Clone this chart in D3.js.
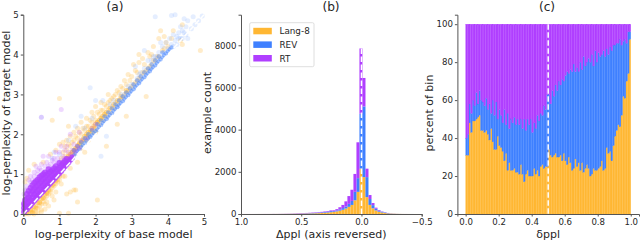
<!DOCTYPE html>
<html>
<head>
<meta charset="utf-8">
<script src="https://cdn.jsdelivr.net/npm/d3@7"></script>
<style>
body { margin: 0; background: #fff; }
text { font-family: "DejaVu Sans", sans-serif; fill: #262626; }
.tick text { font-size: 8.6px; }
.axis path, .tick line { stroke: #555; }
.label { font-size: 11px; text-anchor: middle; }
.title { font-size: 12.2px; text-anchor: middle; }
</style>
</head>
<body>
<div id="drawArea"></div>
<script>
var seriesNames = ['Lang-8', 'REV', 'RT'];
var seriesColor = ['#ffb733', '#3f80ff', '#b03fff'];

// (a) points, [base, target]
var lang8Points = [[0.05,0],[0.1,0.02],[0.15,0],[0.2,0.05],[0.25,0.02],[0.3,0.1],[0.35,0.05],[0.4,0.15],[0.45,0.2],[0.5,0.25],[0.5,0.1],[0.55,0.3],[0.6,0.4],[0.6,0.25],[0.65,0.45],[0.7,0.5],[0.75,0.55],[0.8,0.65],[0.85,0.7],[0.9,0.75],[0.95,0.8],[1,0.85],[0.7,0.2],[0.85,0.35],[1,0.02],[1.25,0.02],[1.3,0.55],[1.2,0.5],[1.4,0.6],[1.5,0.3],[1.45,0.6],[2.05,0.35],[1.15,0.95],[1.3,1.15],[1.5,1.3],[1.7,1.55],[2.3,1.7],[2.6,2.25],[2.85,2.45],[3.4,2.95],[0.05,0.8],[0.15,1.1],[0.1,0.9],[0.3,1.25],[0.55,1.3],[0.75,1.5],[0.9,1.6],[1.0,2.9],[1.25,2.2],[0.8,2.35],[1.0,1.75],[1.1,1.8],[1.2,1.6],[1.2,1.85],[1.3,1.7],[1.3,1.95],[1.4,1.6],[1.4,1.85],[1.4,2.05],[1.5,1.7],[1.5,1.9],[1.5,2.15],[1.6,1.75],[1.6,2.0],[1.6,2.3],[1.7,1.85],[1.7,2.1],[1.75,2.4],[1.8,1.95],[1.8,2.2],[1.9,2.05],[1.9,2.3],[1.9,2.55],[2.0,2.15],[2.0,2.35],[2.0,2.7],[2.1,2.25],[2.1,2.5],[2.15,2.8],[2.2,2.35],[2.2,2.6],[2.3,2.45],[2.3,2.7],[2.35,3.0],[2.4,2.55],[2.4,2.85],[2.5,2.65],[2.5,2.95],[2.6,2.75],[2.6,3.1],[2.7,2.9],[2.7,3.2],[2.8,3.0],[2.8,3.35],[2.9,3.1],[2.9,3.5],[3.0,3.2],[3.0,3.45],[3.05,3.75],[3.1,3.3],[3.1,3.6],[3.2,3.4],[3.2,3.8],[3.2,4.0],[3.3,3.55],[3.3,3.9],[3.4,3.6],[3.45,4.05],[3.5,3.7],[3.5,3.95],[3.6,3.85],[3.6,4.2],[3.7,3.95],[3.75,4.4],[3.85,4.1],[3.9,4.45],[4.0,4.2],[4.15,4.6],[4.4,4.75],[4.4,4.25],[4.35,4.35],[4.9,4.1],[3.9,4.15],[3.95,4.3],[3.8,4.6],[4.1,4.4],
[1.05,1.4],[1.1,1.55],[1.15,1.45],[1.15,1.7],[1.25,1.5],[1.25,1.75],[1.35,1.55],[1.35,1.8],[1.45,1.65],[1.45,1.95],[1.55,1.75],[1.55,2.05],[1.65,1.85],[1.65,2.15],[1.75,1.95],[1.75,2.2],[1.85,2.05],[1.85,2.35],[1.95,2.15],[1.95,2.45],[2.05,2.3],[2.05,2.55],[2.15,2.4],[2.15,2.6],[2.25,2.5],[2.25,2.75],[2.35,2.6],[2.35,2.8],[2.45,2.7],[2.45,2.9],[2.55,2.8],[2.55,3.0],[2.65,2.85],[2.65,3.05],[2.75,2.95],[2.75,3.15],[2.85,3.05],[2.85,3.25],[2.95,3.15],[2.95,3.35],[3.05,3.25],[3.15,3.35],[3.15,3.55],[3.25,3.45],[3.35,3.55],[3.35,3.75],[3.45,3.65],[3.55,3.75],[3.55,4.0],[3.65,3.85],[3.75,3.95],[1.3,1.4],[1.4,1.5],[1.6,1.65],[1.8,1.85],[2.0,2.05],[0.25,0.1],[0.35,0.2],[0.45,0.3],[0.55,0.4],[0.65,0.55],[0.75,0.6],[0.85,0.75],[0.95,0.85],[0.3,0],[0.4,0.03],[0.5,0.05],[0.6,0.12],[0.65,0.3],[0.8,0.45],[0.9,0.55],[1.05,0.75],[1.1,0.95]];
var lang8Core = [[0.1,0.05],[0.2,0.1],[0.3,0.18],[0.4,0.28],[0.5,0.38],[0.6,0.5],[0.7,0.6],[0.8,0.72],[0.9,0.84],[1,0.95],[0.25,0.05],[0.35,0.15],[0.45,0.28],[0.55,0.4],[0.65,0.52],[1.1,1.25],[1.2,1.4],[1.3,1.5],[1.4,1.6],[1.5,1.72],[1.6,1.82],[1.7,1.95],[1.8,2.05],[1.9,2.15],[2,2.25],[2.1,2.35],[2.2,2.45],[2.3,2.55],[2.4,2.65],[2.5,2.75],[2.6,2.85],[2.7,2.95],[2.85,3.1],[1.15,1.3],[1.25,1.45],[1.35,1.55],[1.45,1.65],[1.55,1.78],[1.65,1.88],[1.75,2.0],[1.85,2.1],[1.95,2.2],[2.05,2.3],[2.15,2.4],[2.25,2.5]];
var revPoints = [[0.5,2.43],[0.85,1.55],[1.45,2.2],[1.6,2.45],[1.85,3.17],[2.0,2.85],[2.2,2.85],[2.15,1.45],[2.3,1.95],[2.6,2.7],[2.8,3.0],[3.0,3.25],[3.2,3.5],[3.45,3.85],[3.5,3.65],[3.6,3.95],[3.7,3.9],[3.75,4.05],[3.8,4.3],[3.9,4.05],[3.95,4.3],[4.0,4.15],[4.05,4.4],[4.1,4.25],[4.15,4.5],[4.2,4.35],[4.25,4.45],[4.3,4.55],[4.35,4.4],[4.35,4.7],[4.4,4.6],[4.45,4.9],[4.5,4.5],[4.5,4.7],[4.55,4.4],[4.55,4.85],[4.7,4.95],[4.75,4.75],[4.85,4.85],[4.95,4.97],[3.65,4.95],[4.1,4.98],[4.2,5],[3.35,4.1],[3.1,3.7],[2.5,2.85],[2.4,2.75],[1.9,2.4],[1.7,2.15],[1.25,1.85],[1.0,1.5],[0.8,1.4],[4.65,4.65],[4.4,4.4],[4.25,4.25],[4.15,4.2],[3.15,3.4],[3.25,3.55],[3.35,3.65],[3.55,3.85],[3.65,3.95],[3.85,4.2],[2.9,3.2],[2.7,3.0],[4.3,4.4],[4.45,4.55]];
var revCore = [[1.2,1.25],[1.25,1.3],[1.3,1.36],[1.35,1.4],[1.4,1.47],[1.45,1.52],[1.5,1.58],[1.55,1.62],[1.6,1.68],[1.65,1.72],[1.7,1.78],[1.75,1.84],[1.8,1.9],[1.85,1.93],[1.9,1.98],[1.95,2.03],[2,2.08],[2.05,2.12],[2.1,2.18],[2.15,2.23],[2.2,2.28],[2.25,2.33],[2.3,2.38],[2.35,2.43],[2.4,2.48],[2.45,2.53],[2.5,2.58],[2.55,2.63],[2.6,2.68],[2.65,2.73],[2.7,2.78],[2.75,2.83],[2.8,2.88],[2.85,2.93],[2.9,2.98],[2.95,3.03],[3,3.08],[3.05,3.13],[3.1,3.18],[3.15,3.23],[3.2,3.28],[3.25,3.33],[3.3,3.38],[3.35,3.43],[3.4,3.48],[3.45,3.53],[3.5,3.58],[3.55,3.63],[3.6,3.68],[3.65,3.73],[3.7,3.78],[3.75,3.83],[3.8,3.88],[3.85,3.93],[3.9,3.98],[3.95,4.03],[4,4.08],[4.05,4.13],[4.1,4.18],[2.25,2.45],[2.35,2.55],[2.45,2.65],[2.55,2.75],[2.65,2.85],[2.75,2.95],[2.85,3.05],[2.95,3.15],[3.05,3.25],[3.15,3.35],[3.25,3.45],[3.35,3.55],[3.45,3.65],[3.55,3.75],[3.65,3.85],[3.75,3.95],[3.85,4.05],[1.4,1.6],[1.5,1.7],[1.6,1.8],[1.7,1.9],[1.8,2.0],[1.9,2.1],[2.05,2.25],[2.15,2.35]];
var rtPoints = [[0.02,0.3],[0.02,0.5],[0.05,0.6],[0.1,0.7],[0.15,0.85],[0.2,0.95],[0.3,1.05],[0.35,1.2],[0.45,1.15],[0.5,1.25],[0.55,1.45],[0.65,1.3],[0.7,1.45],[0.85,1.4],[0.9,1.55],[1.0,1.55],[1.05,1.7],[1.15,1.6],[1.2,1.7],[1.25,1.55],[1.35,1.6],[1.4,1.75],[1.5,1.7],[1.6,1.85],[1.75,1.9],[1.05,2.62],[0.5,2.43],[1.3,2.0],[1.55,2.05],[1.9,2.15],[2,2.25],[0.25,0.85],[0.4,1.0],[0.6,1.2],[0.8,1.35],[0.95,1.4],[1.1,1.45],[1.3,1.45],[1.45,1.6],[0.05,0.45],[0.1,0.6],[0.2,0.8],[0.3,0.95],[0.4,1.1],[0.5,1.1],[0.6,1.05],[0.7,1.2],[0.75,1.25],[0.85,1.3],[0.95,1.3],[1.05,1.35],[1.15,1.4],[1.25,1.4],[1.35,1.5],[1.45,1.55],[1.55,1.65]];
var rtCore = [[0.02,0.05],[0.02,0.15],[0.02,0.25],[0.05,0.1],[0.05,0.22],[0.05,0.35],[0.1,0.12],[0.1,0.25],[0.1,0.38],[0.1,0.5],[0.15,0.18],[0.15,0.3],[0.15,0.42],[0.15,0.58],[0.2,0.22],[0.2,0.35],[0.2,0.5],[0.2,0.65],[0.25,0.28],[0.25,0.42],[0.25,0.58],[0.25,0.72],[0.3,0.33],[0.3,0.48],[0.3,0.62],[0.3,0.78],[0.35,0.38],[0.35,0.52],[0.35,0.68],[0.35,0.82],[0.4,0.44],[0.4,0.58],[0.4,0.72],[0.4,0.86],[0.45,0.48],[0.45,0.62],[0.45,0.78],[0.45,0.92],[0.5,0.53],[0.5,0.68],[0.5,0.82],[0.5,0.96],[0.55,0.58],[0.55,0.72],[0.55,0.88],[0.55,1.0],[0.6,0.63],[0.6,0.78],[0.6,0.92],[0.6,1.04],[0.65,0.68],[0.65,0.82],[0.65,0.98],[0.7,0.73],[0.7,0.88],[0.7,1.02],[0.7,1.12],[0.75,0.78],[0.75,0.92],[0.75,1.06],[0.8,0.83],[0.8,0.96],[0.8,1.1],[0.85,0.88],[0.85,1.02],[0.85,1.15],[0.9,0.93],[0.9,1.06],[0.9,1.2],[0.95,0.98],[0.95,1.12],[1,1.03],[1,1.16],[1,1.28],[1.05,1.08],[1.05,1.22],[1.1,1.14],[1.1,1.28],[1.15,1.2],[1.2,1.25],[1.25,1.3],[1.15,1.33],[1.2,1.38],[1.3,1.36],[1.35,1.42]];

// (b) per-bin counts, 1.0 down to -0.5
var lang8Count = [1,1,1,1,1,2,2,2,2,3,3,4,4,5,6,7,9,11,13,15,18,22,26,30,35,40,50,60,70,85,100,125,160,200,260,340,430,650,1050,2150,1750,800,430,270,170,110,70,45,28,18,12,7,5,3,2,2,1,1,1,0];
var revCount = [0,0,0,0,1,1,1,1,1,1,2,2,2,3,3,4,5,6,7,9,12,14,16,20,22,25,28,32,40,50,35,45,60,80,100,140,190,400,650,2600,3350,950,280,150,80,50,35,25,15,8,5,3,2,1,1,1,1,0,0,0];
var rtCount = [1,1,1,1,1,1,1,2,2,2,3,2,4,4,6,7,8,11,15,16,12,14,16,18,20,22,25,28,30,35,40,60,100,150,240,370,530,850,1700,3100,1350,400,190,100,50,30,15,10,7,4,3,2,1,1,1,0,0,0,0,0];
var countTicks = [0, 2000, 4000, 6000, 8000];
var deltaTicks = [1.0, 0.5, 0.0, -0.5];

// (c) top of each layer per 1% bin, RT fills up to 100
var lang8Top = [31,31,48,43,49,49,50,51,52,44,44,43,44,42,39,45,38,34,34,41,36,35,33,28,32,23,27,23,23,24,22,22,21,26,21,17,21,23,20,20,20,24,21,23,20,25,26,24,25,25,34,31,30,31,32,30,30,31,28,32,28,26,30,27,23,24,29,25,27,23,27,22,24,26,24,20,21,24,23,23,24,25,28,23,24,35,32,33,28,36,41,44,47,46,52,62,61,70,74,92];
var revTop = [40,42,58,53,60,57,64,58,65,60,59,57,61,55,58,53,60,52,59,50,55,52,48,55,47,53,45,50,48,51,47,50,47,50,45,50,44,50,47,50,43,48,45,52,49,53,52,57,55,63,63,58,65,62,68,65,70,68,71,70,73,75,74,76,75,79,75,77,75,80,76,83,78,80,82,80,84,78,86,80,85,83,84,86,83,87,84,88,86,89,89,90,90,92,89,91,92,90,96,96];
var percentTicks = [0, 20, 40, 60, 80, 100];
var fracTicks = [0, 0.2, 0.4, 0.6, 0.8, 1.0];
var perplexTicks = [0, 1, 2, 3, 4, 5];

var svg = d3.select('#drawArea').append('svg')
    .attr('width', 640)
    .attr('height', 240)
    .style('display', 'block');

var bottom = 214, top_ = 14.7;

function drawAxes(xScale, yScale, xTicks, yTicks, xFmt, xLabel, yLabel, yLabelX, title, titleX) {
    svg.append('g').attr('class', 'axis')
        .attr('transform', 'translate(0,' + bottom + ')')
        .call(d3.axisBottom(xScale).tickValues(xTicks).tickFormat(xFmt).tickSizeOuter(0).tickSize(2.5).tickPadding(2.5));
    svg.append('g').attr('class', 'axis')
        .attr('transform', 'translate(' + xScale.range()[0] + ',0)')
        .call(d3.axisLeft(yScale).tickValues(yTicks).tickFormat(d3.format('d')).tickSizeOuter(0).tickSize(2.5).tickPadding(2));
    svg.append('text').attr('class', 'label')
        .attr('x', d3.mean(xScale.range())).attr('y', 238).text(xLabel);
    svg.append('text').attr('class', 'label')
        .attr('transform', 'translate(' + yLabelX + ',113) rotate(-90)').text(yLabel);
    svg.append('text').attr('class', 'title')
        .attr('x', titleX).attr('y', 11).text(title);
}

function dashed(x1, y1, x2, y2) {
    svg.append('line')
        .attr('x1', x1).attr('y1', y1).attr('x2', x2).attr('y2', y2)
        .attr('stroke', '#fff')
        .attr('stroke-width', 1.5)
        .attr('stroke-dasharray', '5.5,2.5');
}

// ---- (a)
var xA = d3.scaleLinear().domain([0, 5]).range([23.3, 204]);
var yA = d3.scaleLinear().domain([0, 5]).range([bottom, top_]);

function dots(data, color, alpha, r) {
    svg.append('g').selectAll('circle')
        .data(data)
        .enter()
        .append('circle')
        .attr('cx', function (d) { return xA(d[0]); })
        .attr('cy', function (d) { return yA(d[1]); })
        .attr('r', r || 2.5)
        .attr('fill', color)
        .attr('opacity', alpha);
}
dots(lang8Points, seriesColor[0], 0.26);
dots(lang8Core, seriesColor[0], 0.45);
dots(revPoints, '#7fa8ff', 0.2);
dots(revCore, seriesColor[1], 0.45, 2.2);
dots(rtPoints, seriesColor[2], 0.2);
dots(rtCore, seriesColor[2], 0.8, 3);
dashed(xA(0), yA(0), xA(5), yA(5));
drawAxes(xA, yA, perplexTicks, perplexTicks, d3.format('d'), 'log-perplexity of base model', 'log-perplexity of target model', 9.5, '(a)', 115);

// ---- (b)
var xB = d3.scaleLinear().domain([1, -0.5]).range([241, 421.7]);
var yB = d3.scaleLinear().domain([0, 9450]).range([bottom, top_]);
var binWidth = 0.025;
var binRows = lang8Count.map(function (v, i) {
    return { left: 0.9917 - i * binWidth, a: v, b: revCount[i], c: rtCount[i] };
});
var stackB = d3.stack().keys(['a', 'b', 'c'])(binRows);
svg.append('g').selectAll('g')
    .data(stackB)
    .enter()
    .append('g')
    .attr('fill', function (d, i) { return seriesColor[i]; })
    .selectAll('rect')
    .data(function (d) { return d; })
    .enter()
    .append('rect')
    .attr('x', function (d) { return xB(d.data.left); })
    .attr('width', xB(0) - xB(binWidth))
    .attr('y', function (d) { return yB(d[1]); })
    .attr('height', function (d) { return yB(d[0]) - yB(d[1]); });
dashed(xB(0), yB(7850), xB(0), yB(0));
drawAxes(xB, yB, deltaTicks, countTicks, d3.format('.1f'), 'Δppl (axis reversed)', 'example count', 211, '(b)', 331);

// legend
var legend = svg.append('g');
legend.append('rect')
    .attr('x', 249.7).attr('y', 22.7).attr('width', 64.3).attr('height', 44).attr('rx', 1.5)
    .attr('fill', '#fff').attr('stroke', '#d6d6d6').attr('stroke-width', 0.8);
seriesNames.forEach(function (name, i) {
    legend.append('rect')
        .attr('x', 253.3).attr('y', 27.8 + i * 13.6).attr('width', 18.5).attr('height', 6.5)
        .attr('fill', seriesColor[i]);
    legend.append('text')
        .attr('x', 279.5).attr('y', 34.4 + i * 13.6)
        .style('font-size', '8.8px')
        .text(name);
});

// ---- (c)
var xC = d3.scaleLinear().domain([-0.05, 1.05]).range([457.4, 639]);
var yC = d3.scaleLinear().domain([0, 105]).range([bottom, 14.7]);
var pctWidth = 0.01;
function pctBars(tops, bases, color) {
    svg.append('g').selectAll('rect')
        .data(tops)
        .enter()
        .append('rect')
        .attr('x', function (d, i) { return xC(i * pctWidth); })
        .attr('width', xC(pctWidth) - xC(0))
        .attr('y', function (d) { return yC(d); })
        .attr('height', function (d, i) { return yC(bases ? bases[i] : 0) - yC(d); })
        .attr('fill', color)
        .attr('stroke', color)
        .attr('stroke-width', 0.2);
}
pctBars(lang8Top, null, seriesColor[0]);
pctBars(revTop, lang8Top, seriesColor[1]);
pctBars(revTop.map(function () { return 100; }), revTop, seriesColor[2]);
dashed(xC(0.5), yC(100), xC(0.5), yC(0));
drawAxes(xC, yC, fracTicks, percentTicks, d3.format('.1f'), 'δppl', 'percent of bin', 433, '(c)', 547);
</script>
</body>
</html>
